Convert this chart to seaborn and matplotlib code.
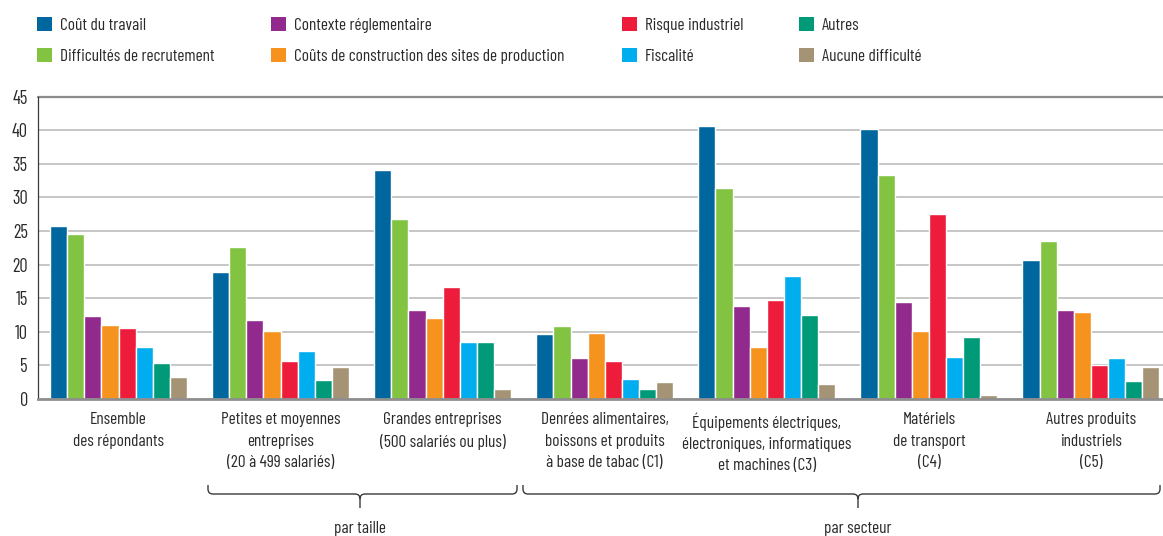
import matplotlib
matplotlib.use("Agg")
import matplotlib.pyplot as plt
from matplotlib import font_manager
from matplotlib.patches import Patch, PathPatch
from matplotlib.path import Path
import seaborn as sns
import pandas as pd

# ---------------- data ----------------
groupes = [
    "Ensemble\ndes répondants",
    "Petites et moyennes\nentreprises\n(20 à 499 salariés)",
    "Grandes entreprises\n(500 salariés ou plus)",
    "Denrées alimentaires,\nboissons et produits\nà base de tabac (C1)",
    "Équipements électriques,\nélectroniques, informatiques\net machines (C3)",
    "Matériels\nde transport\n(C4)",
    "Autres produits\nindustriels\n(C5)",
]
criteres = [
    "Coût du travail",
    "Difficultés de recrutement",
    "Contexte réglementaire",
    "Coûts de construction des sites de production",
    "Risque industriel",
    "Fiscalité",
    "Autres",
    "Aucune difficulté",
]
cout_travail = [25.7, 18.9, 34.1, 9.7, 40.6, 40.2, 20.7]
difficultes_recrutement = [24.5, 22.6, 26.8, 10.9, 31.4, 33.3, 23.5]
contexte_reglementaire = [12.3, 11.7, 13.2, 6.1, 13.8, 14.4, 13.2]
couts_construction = [11.0, 10.1, 12.0, 9.8, 7.7, 10.1, 12.9]
risque_industriel = [10.6, 5.6, 16.7, 5.6, 14.7, 27.5, 5.0]
fiscalite = [7.7, 7.1, 8.5, 3.0, 18.3, 6.2, 6.1]
autres = [5.4, 2.8, 8.5, 1.5, 12.5, 9.2, 2.7]
aucune_difficulte = [3.3, 4.7, 1.5, 2.5, 2.2, 0.6, 4.7]
series = [cout_travail, difficultes_recrutement, contexte_reglementaire,
          couts_construction, risque_industriel, fiscalite, autres,
          aucune_difficulte]
couleurs = ["#00679e", "#82c341", "#922a8e", "#f6921e",
            "#ee1c3b", "#00adee", "#009a78", "#a49374"]
yticks = [0, 5, 10, 15, 20, 25, 30, 35, 40, 45]

rows = []
for crit, vals in zip(criteres, series):
    for g, v in zip(groupes, vals):
        rows.append({"groupe": g, "critere": crit, "valeur": v})
df = pd.DataFrame(rows)

# ---------------- fonts ----------------
sns.set_style("white")
entries = font_manager.fontManager.ttflist
names = {f.name for f in entries}
chosen = None
for cand in ["Barlow Condensed", "Roboto Condensed", "Sofia Sans Condensed",
             "Archivo Narrow", "IBM Plex Sans Condensed"]:
    if cand in names:
        chosen = cand
        break
if chosen is not None:
    plt.rcParams["font.family"] = [chosen, "DejaVu Sans"]
    st = [str(f.stretch) for f in entries if f.name == chosen]
    plt.rcParams["font.stretch"] = "condensed" if "condensed" in st else "normal"
else:
    plt.rcParams["font.family"] = ["DejaVu Sans"]
    plt.rcParams["font.stretch"] = "condensed"
TXT = "#2a2a2a"

W, H = 1163, 536
fig = plt.figure(figsize=(W / 100, H / 100), dpi=100)
renderer = fig.canvas.get_renderer()

def text_size(s, size, **kw):
    t = fig.text(0, 0, s, fontsize=size, **kw)
    bb = t.get_window_extent(renderer)
    t.remove()
    return bb.width, bb.height

# font size so that the longest legend label is ~271 px wide (as in the reference)
w_ref, _ = text_size(criteres[3], 10)
FS = 10 * 271 / w_ref
FS_PX = FS * 100 / 72
_, lp_h = text_size("lp", FS)
_, one_h = text_size("A", FS)
_, two_h = text_size("A\nA", FS, linespacing=1.0)
step1 = two_h - one_h  # line step at linespacing 1.0

def fx(x):
    return x / W

def fy(y):
    return 1 - y / H

left, right = 37.5, 1172
top, bottom = 96.5, 399
ax = fig.add_axes([fx(left), fy(bottom), (right - left) / W, (bottom - top) / H])

sns.barplot(data=df, x="groupe", y="valeur", hue="critere", order=groupes,
            hue_order=criteres, palette=couleurs, width=0.845, gap=0,
            saturation=1, dodge=True, legend=False, ax=ax, zorder=3)

ax.set_xlim(-0.5, len(groupes) - 0.5)
ax.set_ylim(0, 45)
ax.set_yticks(yticks)
ax.set_yticklabels([str(t) for t in yticks], fontsize=FS * 1.07, color=TXT)
ax.set_xlabel("")
ax.set_ylabel("")
ax.set_xticks(range(len(groupes)))
ax.set_xticklabels(groupes, fontsize=FS, color=TXT,
                   linespacing=23 / step1 if step1 > 0 else 1.35, va="top")
ax.tick_params(axis="x", length=0, pad=9.5)
ax.tick_params(axis="y", length=0, pad=7)

ax.yaxis.grid(True, color="#c6c6c6", linewidth=1.4, zorder=0)
ax.xaxis.grid(False)
ax.set_axisbelow(True)
for s in ["top", "right"]:
    ax.spines[s].set_visible(False)
ax.axhline(45, color="#8c8c8c", linewidth=1.6, zorder=1, clip_on=False)
ax.spines["left"].set_color("#3a3a3a")
ax.spines["left"].set_linewidth(0.9)
ax.spines["bottom"].set_color("#8e8e8e")
ax.spines["bottom"].set_linewidth(2.0)
ax.spines["bottom"].set_zorder(5)

# ---------------- legend (4 columns) ----------------
handles = [Patch(facecolor=c, edgecolor="none") for c in couleurs]
col_x = [37, 271, 622, 799]
row_h = max(lp_h, 15)
for i, x in enumerate(col_x):
    leg = fig.legend(handles[2 * i:2 * i + 2], criteres[2 * i:2 * i + 2],
                     loc="upper left", bbox_to_anchor=(fx(x), fy(25 - row_h / 2)),
                     frameon=False, fontsize=FS, borderpad=0,
                     borderaxespad=0, handlelength=15 / FS_PX,
                     handleheight=15 / FS_PX, handletextpad=8 / FS_PX,
                     labelspacing=(30 - row_h) / FS_PX)
    for t in leg.get_texts():
        t.set_color(TXT)

# ---------------- braces ----------------
def brace(x0, x1, xm, y_top, y_line, y_tip, r=5):
    pts = [(x0, y_top), (x0, y_line - r), (x0, y_line), (x0 + r, y_line),
           (xm - r, y_line), (xm, y_line), (xm, y_line + r), (xm, y_tip),
           (xm, y_line + r), (xm, y_line), (xm + r, y_line),
           (x1 - r, y_line), (x1, y_line), (x1, y_line - r), (x1, y_top)]
    codes = [Path.MOVETO, Path.LINETO, Path.CURVE3, Path.CURVE3,
             Path.LINETO, Path.CURVE3, Path.CURVE3, Path.LINETO,
             Path.MOVETO, Path.CURVE3, Path.CURVE3,
             Path.LINETO, Path.CURVE3, Path.CURVE3, Path.LINETO]
    path = Path([(fx(a), fy(b)) for a, b in pts], codes)
    fig.patches.append(PathPatch(path, transform=fig.transFigure,
                                 facecolor="none", edgecolor="#3a3a3a",
                                 linewidth=1.0))

brace(208, 517, 360, 485, 494, 508)
brace(523, 1160, 858, 485, 494, 508)
fig.text(fx(360), fy(528), "par taille", ha="center", va="center",
         fontsize=FS, color=TXT)
fig.text(fx(858), fy(528), "par secteur", ha="center", va="center",
         fontsize=FS, color=TXT)

fig.savefig("out.png", dpi=100)
